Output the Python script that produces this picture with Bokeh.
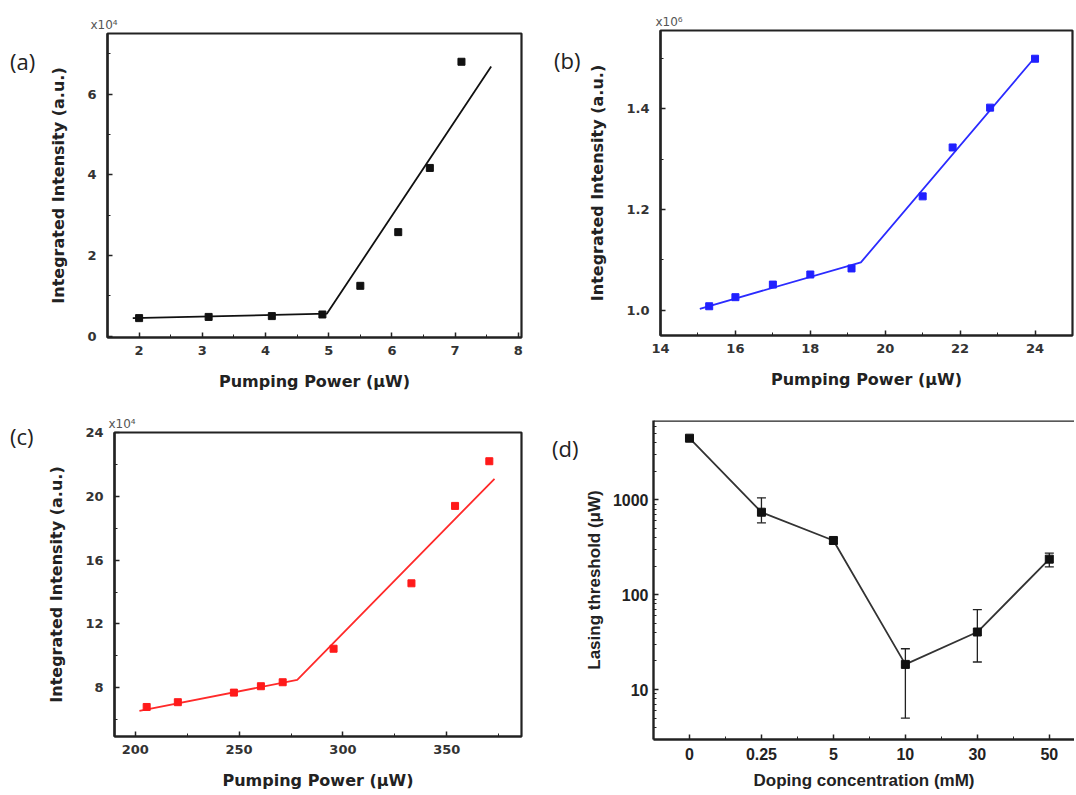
from bokeh.plotting import figure
from bokeh.layouts import row, column
from bokeh.models import (Range1d, FixedTicker, Whisker, TeeHead, ColumnDataSource,
                          NumeralTickFormatter, Div, Span)
from bokeh.embed import file_html
from bokeh.resources import INLINE

# ---------------- data ----------------
# (a)
a_power = [2.0, 3.1, 4.1, 4.9, 5.5, 6.1, 6.6, 7.1]
a_intensity = [0.45, 0.48, 0.50, 0.54, 1.25, 2.58, 4.17, 6.80]
a_fit_power = [1.9, 4.97, 7.57]
a_fit_intensity = [0.45, 0.56, 6.68]

# (b)
b_power = [15.3, 16.0, 17.0, 18.0, 19.1, 21.0, 21.8, 22.8, 24.0]
b_intensity = [1.008, 1.026, 1.051, 1.071, 1.083, 1.226, 1.323, 1.402, 1.499]
b_fit_power = [15.05, 19.35, 24.0]
b_fit_intensity = [1.003, 1.095, 1.502]

# (c)
c_power = [205.5, 220.5, 247.5, 260.5, 271.0, 295.5, 333.0, 354.0, 370.5]
c_intensity = [6.8, 7.1, 7.7, 8.1, 8.35, 10.45, 14.55, 19.4, 22.2]
c_fit_power = [202.0, 278.0, 373.0]
c_fit_intensity = [6.55, 8.5, 21.1]

# (d)
d_labels = ["0", "0.25", "5", "10", "30", "50"]
d_threshold = [4470, 741, 373, 18.4, 40.4, 237]
d_upper = [4470, 1050, 395, 26.9, 69.5, 275]
d_lower = [4470, 572, 345, 5.0, 19.5, 196]

XTITLE = "Pumping Power (μW)"
YTITLE = "Integrated Intensity (a.u.)"
TITLE_FONT = "DejaVu Sans"
TICK_FONT = "DejaVu Sans"


def letter_div(text, width, height, top, left):
    html = ('<div style="position:relative; top:%dpx; left:%dpx; font-family:\'Open Sans\';'
            ' font-size:22px; line-height:22px; color:#222222;">%s</div>' % (top, left, text))
    return Div(text=html, width=width, height=height, margin=(0, 0, 0, 0))


def panel(width, height, bl, br, bt, bb, xr, yr, xt, xm, yt, ym, expo, expo_dx):
    p = figure(width=width, height=height, x_range=Range1d(*xr), y_range=Range1d(*yr),
               output_backend="svg", toolbar_location=None,
               min_border_left=bl, min_border_right=br, min_border_top=bt, min_border_bottom=bb)
    p.grid.visible = False
    p.outline_line_color = "#222222"
    p.outline_line_width = 2.2
    p.xaxis.ticker = FixedTicker(ticks=xt, minor_ticks=xm)
    p.yaxis.ticker = FixedTicker(ticks=yt, minor_ticks=ym)
    for ax in (p.xaxis[0], p.yaxis[0]):
        ax.axis_line_width = 2.2
        ax.axis_line_color = "#222222"
        ax.major_tick_in = 5
        ax.major_tick_out = 0
        ax.minor_tick_in = 3
        ax.minor_tick_out = 0
        ax.major_tick_line_color = "#222222"
        ax.minor_tick_line_color = "#222222"
        ax.major_tick_line_width = 1.5
        ax.major_label_text_font = TICK_FONT
        ax.major_label_text_font_style = "bold"
        ax.major_label_text_font_size = "13px"
        ax.major_label_text_color = "#333333"
        ax.axis_label_text_font = TITLE_FONT
        ax.axis_label_text_font_style = "bold"
        ax.axis_label_text_font_size = "16px"
        ax.axis_label_text_color = "#222222"
    p.xaxis.axis_label = XTITLE
    p.yaxis.axis_label = YTITLE
    p.xaxis.major_label_standoff = 8
    p.xaxis.axis_label_standoff = 14
    p.yaxis.major_label_standoff = 11
    p.yaxis.axis_label_standoff = 16
    p.title.text = expo
    p.title.align = "left"
    p.title.offset = expo_dx
    p.title.standoff = 3
    p.title.text_font = "DejaVu Sans"
    p.title.text_font_style = "normal"
    p.title.text_font_size = "12px"
    p.title.text_color = "#555555"
    return p


# (a)
div_a = letter_div("(a)", 44, 400, 50, 10)
pa = panel(501, 400, 63, 24, 33, 63, (1.5, 8.05), (-0.03, 7.5),
           [2, 3, 4, 5, 6, 7, 8], [2.5, 3.5, 4.5, 5.5, 6.5, 7.5],
           [0, 2, 4, 6], [1, 3, 5, 7], "x10⁴", -17)
pa.line(a_fit_power, a_fit_intensity, line_color="#111111", line_width=1.8)
pa.scatter(a_power, a_intensity, marker="square", size=7, color="#111111")

# (b)
div_b = letter_div("(b)", 40, 400, 49, 9)
pb = panel(489, 400, 73, 2, 30, 65, (14, 25), (0.95, 1.555),
           [14, 16, 18, 20, 22, 24], [15, 17, 19, 21, 23],
           [1.0, 1.2, 1.4], [1.1, 1.3, 1.5], "x10⁶", -5)
pb.yaxis.formatter = NumeralTickFormatter(format="0.0")
pb.line(b_fit_power, b_fit_intensity, line_color="#2b2bff", line_width=1.8)
pb.scatter(b_power, b_intensity, marker="square", size=7, color="#2020ff")

# (c)
div_c = letter_div("(c)", 44, 392, 25, 10)
pc = panel(501, 392, 63, 24, 32, 54, (190, 386), (4.95, 24),
           [200, 250, 300, 350], [225, 275, 325, 375],
           [8, 12, 16, 20, 24], [6, 10, 14, 18, 22], "x10⁴", -6)
pc.line(c_fit_power, c_fit_intensity, line_color="#ff2a2a", line_width=1.8)
pc.scatter(c_power, c_intensity, marker="square", size=7, color="#ff1a1a")

# (d)
div_d = letter_div("(d)", 36, 392, 37, 7)
d_x = list(range(len(d_labels)))
d_ymax = 6870
pd = figure(width=493, height=392, x_range=Range1d(-0.5, 5.35), y_range=Range1d(2.97, d_ymax),
            y_axis_type="log", output_backend="svg", toolbar_location=None, title=None,
            min_border_left=70, min_border_right=0, min_border_top=20, min_border_bottom=53)
pd.grid.visible = False
pd.outline_line_color = None
pd.xaxis.ticker = FixedTicker(ticks=d_x, minor_ticks=[i + 0.5 for i in d_x])
pd.xaxis.major_label_overrides = {i: lab for i, lab in enumerate(d_labels)}
minor_log = [m * 10 ** e for e in range(0, 4) for m in range(2, 10) if 2.97 < m * 10 ** e < d_ymax]
pd.yaxis.ticker = FixedTicker(ticks=[10, 100, 1000], minor_ticks=minor_log)
pd.yaxis.formatter = NumeralTickFormatter(format="0")
for ax in (pd.xaxis[0], pd.yaxis[0]):
    ax.axis_line_width = 2.4
    ax.axis_line_color = "#222222"
    ax.major_tick_in = 5
    ax.major_tick_out = 0
    ax.minor_tick_in = 3
    ax.minor_tick_out = 0
    ax.major_tick_line_color = "#222222"
    ax.minor_tick_line_color = "#222222"
    ax.major_tick_line_width = 1.5
    ax.major_label_text_font = "Liberation Sans"
    ax.major_label_text_font_style = "bold"
    ax.major_label_text_font_size = "16px"
    ax.major_label_text_color = "#222222"
    ax.axis_label_text_font = "Liberation Sans"
    ax.axis_label_text_font_style = "bold"
    ax.axis_label_text_font_size = "17px"
    ax.axis_label_text_color = "#222222"
pd.xaxis.axis_label = "Doping concentration (mM)"
pd.yaxis.axis_label = "Lasing threshold (μW)"
pd.xaxis.major_label_standoff = 8
pd.xaxis.axis_label_standoff = 8
pd.yaxis.major_label_standoff = 5
pd.yaxis.axis_label_standoff = 6
pd.add_layout(Span(location=d_ymax, dimension="width", line_color="#222222", line_width=2.4))

d_src = ColumnDataSource(dict(x=d_x, y=d_threshold, upper=d_upper, lower=d_lower))
pd.add_layout(Whisker(base="x", upper="upper", lower="lower", source=d_src,
                      line_color="#222222", line_width=1.3,
                      upper_head=TeeHead(size=9, line_color="#222222", line_width=1.3),
                      lower_head=TeeHead(size=9, line_color="#222222", line_width=1.3)))
pd.line("x", "y", source=d_src, line_color="#333333", line_width=1.8)
pd.scatter("x", "y", source=d_src, marker="square", size=8, color="#111111")

layout = column(
    row(div_a, column(pa), div_b, column(pb)),
    row(div_c, column(pc), div_d, column(pd)),
)
open("out.html", "w").write(file_html(layout, INLINE))
